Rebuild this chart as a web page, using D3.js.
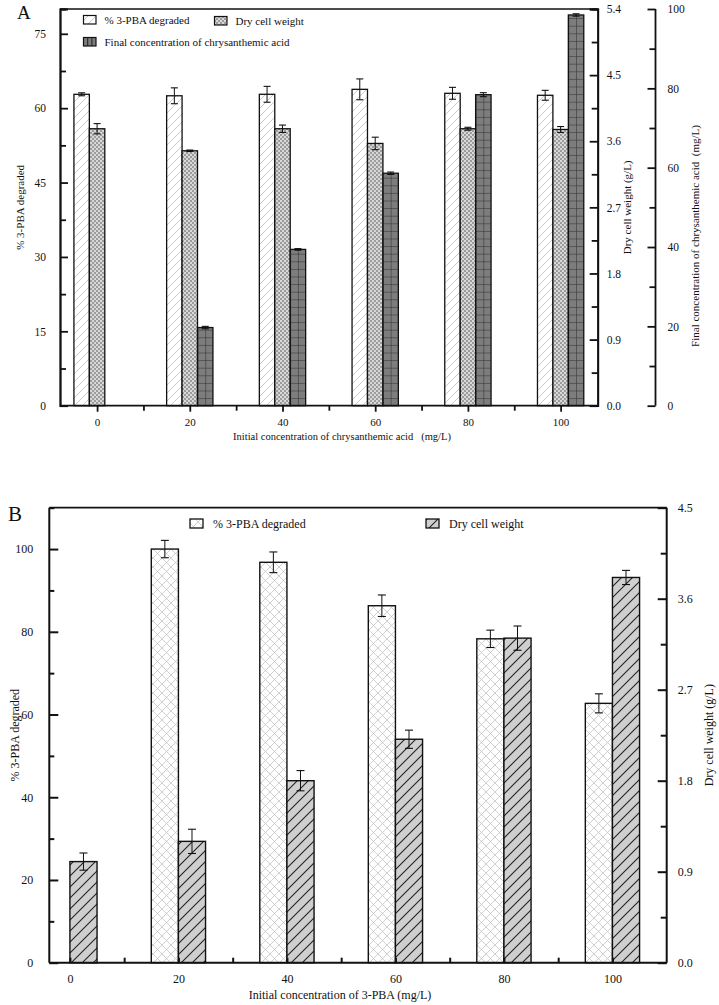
<!DOCTYPE html>
<html><head><meta charset="utf-8">
<script src="https://cdn.jsdelivr.net/npm/d3@7"></script>
<style>
html,body{margin:0;padding:0;background:#fff;}
svg text{font-family:"Liberation Serif","Times New Roman",serif;fill:#111;}
</style></head>
<body>
<svg id="chart" width="719" height="1005"></svg>
<script>
// ---------- Data: panel A ----------
const catsA = [0, 20, 40, 60, 80, 100];
const pbaA = [62.8, 62.5, 62.8, 63.8, 63.0, 62.6];
const pbaAErr = [0.3, 1.6, 1.6, 2.1, 1.2, 1.0];
const dcwA = [3.77, 3.47, 3.77, 3.57, 3.77, 3.76];
const dcwAErr = [0.07, 0.01, 0.05, 0.085, 0.02, 0.04];
const finalA = [0, 19.7, 39.4, 58.6, 78.4, 98.5];
const finalAErr = [0, 0.3, 0.2, 0.3, 0.5, 0.3];
const leftTicksA = [0, 15, 30, 45, 60, 75];
const dcwTicksA = [0.0, 0.9, 1.8, 2.7, 3.6, 4.5, 5.4];
const finalTicksA = [0, 20, 40, 60, 80, 100];
// ---------- Data: panel B ----------
const catsB = [0, 20, 40, 60, 80, 100];
const pbaB = [0, 100, 96.8, 86.3, 78.3, 62.7];
const pbaBErr = [0, 2.1, 2.5, 2.6, 2.1, 2.3];
const dcwB = [1.0, 1.2, 1.8, 2.21, 3.21, 3.81];
const dcwBErr = [0.085, 0.12, 0.1, 0.09, 0.12, 0.07];
const leftTicksB = [0, 20, 40, 60, 80, 100];
const dcwTicksB = [0.0, 0.9, 1.8, 2.7, 3.6, 4.5];

const svg = d3.select("#chart");
const defs = svg.append("defs");

// patterns
function diagPattern(id, bg, color, size, sw, both) {
  const p = defs.append("pattern").attr("id", id).attr("patternUnits", "userSpaceOnUse")
    .attr("width", size).attr("height", size);
  p.append("rect").attr("width", size).attr("height", size).attr("fill", bg);
  p.append("path").attr("d", `M-1,1 L1,-1 M0,${size} L${size},0 M${size-1},${size+1} L${size+1},${size-1}`)
    .attr("stroke", color).attr("stroke-width", sw).attr("fill", "none");
  if (both) p.append("path").attr("d", `M-1,${size-1} L1,${size+1} M0,0 L${size},${size} M${size-1},-1 L${size+1},1`)
    .attr("stroke", color).attr("stroke-width", sw).attr("fill", "none");
}
diagPattern("hatchA", "#fff", "#bdbdbd", 8, 0.8, false);
diagPattern("crossB", "#fff", "#bcbcbc", 9, 0.7, true);
diagPattern("diagB", "#cfcfcf", "#222", 11, 1.1, false);
{
  const p = defs.append("pattern").attr("id", "checkA").attr("patternUnits", "userSpaceOnUse")
    .attr("width", 4).attr("height", 4);
  p.append("rect").attr("width", 4).attr("height", 4).attr("fill", "#9c9c9c");
  p.append("rect").attr("x", 0).attr("y", 0).attr("width", 2).attr("height", 2).attr("fill", "#d8d8d8");
  p.append("rect").attr("x", 2).attr("y", 2).attr("width", 2).attr("height", 2).attr("fill", "#d8d8d8");
}
function gridPattern(id, x0, y0, w, h) {
  const p = defs.append("pattern").attr("id", id).attr("patternUnits", "userSpaceOnUse")
    .attr("x", x0).attr("y", y0).attr("width", w).attr("height", h);
  p.append("rect").attr("width", w).attr("height", h).attr("fill", "#7d7d7d");
  p.append("path").attr("d", `M0,0 H${w} M0,0 V${h}`).attr("stroke", "#2a2a2a").attr("stroke-width", 1).attr("fill", "none");
}

function drawErr(g, x, yTop, yLo, yHi, cap) {
  g.append("line").attr("x1", x).attr("x2", x).attr("y1", yLo).attr("y2", yHi).attr("stroke", "#111").attr("stroke-width", 1);
  g.append("line").attr("x1", x - cap).attr("x2", x + cap).attr("y1", yLo).attr("y2", yLo).attr("stroke", "#111").attr("stroke-width", 1.1);
  g.append("line").attr("x1", x - cap).attr("x2", x + cap).attr("y1", yHi).attr("y2", yHi).attr("stroke", "#111").attr("stroke-width", 1.1);
}
function styleAxis(g, sw) {
  g.select(".domain").attr("stroke", "#111").attr("stroke-width", sw);
  g.selectAll(".tick line").attr("stroke", "#111").attr("stroke-width", sw);
}

// ================= PANEL A =================
const A = {l: 60, r: 597.7, t: 9, b: 405.7};
const xA = d3.scaleLinear().domain([-8, 108]).range([A.l, A.r]);
const yA = d3.scaleLinear().domain([0, 80]).range([A.b, A.t]);
const yA2 = d3.scaleLinear().domain([0, 5.4]).range([A.b, A.t]);
const yA3 = d3.scaleLinear().domain([0, 100]).range([A.b, A.t]);
const bwA = xA(3.33) - xA(0);
const gA = svg.append("g");

// bars
catsA.forEach((c, i) => {
  const cx = xA(c);
  if (pbaA[i] > 0) {
    gA.append("rect").attr("x", cx - 1.5 * bwA).attr("y", yA(pbaA[i])).attr("width", bwA).attr("height", A.b - yA(pbaA[i]))
      .attr("fill", "url(#hatchA)").attr("stroke", "#111").attr("stroke-width", 1.3);
    drawErr(gA, cx - bwA, yA(pbaA[i]), yA(pbaA[i] - pbaAErr[i]), yA(pbaA[i] + pbaAErr[i]), 3.5);
  }
  gA.append("rect").attr("x", cx - 0.5 * bwA).attr("y", yA2(dcwA[i])).attr("width", bwA).attr("height", A.b - yA2(dcwA[i]))
    .attr("fill", "url(#checkA)").attr("stroke", "#111").attr("stroke-width", 1.3);
  drawErr(gA, cx, yA2(dcwA[i]), yA2(dcwA[i] - dcwAErr[i]), yA2(dcwA[i] + dcwAErr[i]), 3.5);
  if (finalA[i] > 0) {
    const bx = cx + 0.5 * bwA, by = yA3(finalA[i]);
    gridPattern("gridA" + i, bx, A.b, bwA / 2, 7.6);
    gA.append("rect").attr("x", bx).attr("y", by).attr("width", bwA).attr("height", A.b - by)
      .attr("fill", `url(#gridA${i})`).attr("stroke", "#111").attr("stroke-width", 1.3);
    drawErr(gA, cx + bwA, by, yA3(finalA[i] - finalAErr[i]), yA3(finalA[i] + finalAErr[i]), 3.5);
  }
});

gA.append("line").attr("x1", A.l).attr("x2", A.r).attr("y1", A.t).attr("y2", A.t).attr("stroke", "#111").attr("stroke-width", 1.6);

const axLA = gA.append("g").attr("transform", `translate(${A.l},0)`)
  .call(d3.axisLeft(yA).tickValues(leftTicksA).tickSize(-8).tickPadding(14).tickFormat(d3.format("d")));
styleAxis(axLA, 1.8); axLA.selectAll("text").attr("font-size", 11.5);
const axLAm = gA.append("g").attr("transform", `translate(${A.l},0)`)
  .call(d3.axisLeft(yA).tickValues(leftTicksA.map(v => v + 7.5)).tickSize(-6).tickFormat(""));
styleAxis(axLAm, 1.8);

const axBA = gA.append("g").attr("transform", `translate(0,${A.b})`)
  .call(d3.axisBottom(xA).tickValues(catsA).tickSize(6).tickPadding(7).tickFormat(d3.format("d")));
styleAxis(axBA, 1.8); axBA.selectAll("text").attr("font-size", 11);
const axBAm = gA.append("g").attr("transform", `translate(0,${A.b})`)
  .call(d3.axisBottom(xA).tickValues(catsA.slice(0, 5).map(v => v + 10)).tickSize(5).tickFormat(""));
styleAxis(axBAm, 1.8);
axBA.select(".domain").attr("d", `M${A.l},0H${A.r}`);
axBAm.select(".domain").remove();

const axRA = gA.append("g").attr("transform", `translate(${A.r},0)`)
  .call(d3.axisRight(yA2).tickValues(dcwTicksA).tickSize(-8).tickPadding(9).tickFormat(d3.format(".1f")));
styleAxis(axRA, 1.8); axRA.selectAll("text").attr("font-size", 11.5);
const axRAm = gA.append("g").attr("transform", `translate(${A.r},0)`)
  .call(d3.axisRight(yA2).tickValues(dcwTicksA.slice(0, 6).map(v => v + 0.45)).tickSize(-6).tickFormat(""));
styleAxis(axRAm, 1.8);

const x3 = 655.5;
const axTA = gA.append("g").attr("transform", `translate(${x3},0)`)
  .call(d3.axisRight(yA3).tickValues(finalTicksA).tickSize(-8).tickPadding(12).tickFormat(d3.format("d")));
styleAxis(axTA, 1.8); axTA.selectAll("text").attr("font-size", 11.5);
axTA.select(".domain").attr("d", `M0,${A.t}V${A.b}`);
const axTAm = gA.append("g").attr("transform", `translate(${x3},0)`)
  .call(d3.axisRight(yA3).tickValues(finalTicksA.slice(0, 5).map(v => v + 10)).tickSize(-6).tickFormat(""));
styleAxis(axTAm, 1.8); axTAm.select(".domain").remove();

gA.append("text").attr("transform", `translate(24,${(A.t + A.b) / 2}) rotate(-90)`).attr("text-anchor", "middle")
  .attr("font-size", 11).text("% 3-PBA degraded");
gA.append("text").attr("x", 342).attr("y", 440).attr("text-anchor", "middle").attr("font-size", 10.5)
  .attr("xml:space", "preserve").text("Initial concentration of chrysanthemic acid   (mg/L)");
gA.append("text").attr("transform", `translate(631,${(A.t + A.b) / 2}) rotate(-90)`).attr("text-anchor", "middle")
  .attr("font-size", 11).text("Dry cell weight (g/L)");
gA.append("text").attr("transform", `translate(699,236) rotate(-90)`).attr("text-anchor", "middle")
  .attr("font-size", 11).attr("xml:space", "preserve").text("Final concentration of chrysanthemic acid  (mg/L)");
gA.append("text").attr("x", 17).attr("y", 19).attr("font-size", 19).text("A");

const legA = [
  {fill: "url(#hatchA)", label: "% 3-PBA degraded", x: 83.5, y: 15.5},
  {fill: "url(#checkA)", label: "Dry cell weight", x: 214.5, y: 16.5},
  {fill: "#7d7d7d", label: "Final concentration of chrysanthemic acid", x: 83.5, y: 37.5}
];
legA.forEach(d => {
  gA.append("rect").attr("x", d.x).attr("y", d.y).attr("width", 12.5).attr("height", 8.5)
    .attr("fill", d.fill).attr("stroke", "#111").attr("stroke-width", 1.2);
  if (d.fill === "#7d7d7d") {
    gA.append("line").attr("x1", d.x + 4.2).attr("x2", d.x + 4.2).attr("y1", d.y).attr("y2", d.y + 8.5).attr("stroke", "#222");
    gA.append("line").attr("x1", d.x + 8.4).attr("x2", d.x + 8.4).attr("y1", d.y).attr("y2", d.y + 8.5).attr("stroke", "#222");
  }
  gA.append("text").attr("x", d.x + 21).attr("y", d.y + 8).attr("font-size", 11).text(d.label);
});

// ================= PANEL B =================
const B = {l: 49.3, r: 666.7, t: 507.7, b: 962.7};
const xB = d3.scaleLinear().domain([-3.8, 110]).range([B.l, B.r]);
const yB = d3.scaleLinear().domain([0, 110]).range([B.b, B.t]);
const yB2 = d3.scaleLinear().domain([0, 4.5]).range([B.b, B.t]);
const bwB = xB(5) - xB(0);
const gB = svg.append("g");

catsB.forEach((c, i) => {
  const cx = xB(c);
  if (pbaB[i] > 0) {
    gB.append("rect").attr("x", cx - bwB).attr("y", yB(pbaB[i])).attr("width", bwB).attr("height", B.b - yB(pbaB[i]))
      .attr("fill", "url(#crossB)").attr("stroke", "#111").attr("stroke-width", 1.4);
    drawErr(gB, cx - bwB / 2, yB(pbaB[i]), yB(pbaB[i] - pbaBErr[i]), yB(pbaB[i] + pbaBErr[i]), 4);
  }
  gB.append("rect").attr("x", cx).attr("y", yB2(dcwB[i])).attr("width", bwB).attr("height", B.b - yB2(dcwB[i]))
    .attr("fill", "url(#diagB)").attr("stroke", "#111").attr("stroke-width", 1.4);
  drawErr(gB, cx + bwB / 2, yB2(dcwB[i]), yB2(dcwB[i] - dcwBErr[i]), yB2(dcwB[i] + dcwBErr[i]), 4);
});

gB.append("line").attr("x1", B.l).attr("x2", B.r).attr("y1", B.t).attr("y2", B.t).attr("stroke", "#111").attr("stroke-width", 1.8);

const axLB = gB.append("g").attr("transform", `translate(${B.l},0)`)
  .call(d3.axisLeft(yB).tickValues(leftTicksB).tickSize(-9).tickPadding(16).tickFormat(d3.format("d")));
styleAxis(axLB, 2); axLB.selectAll("text").attr("font-size", 12);
axLB.select(".domain").attr("d", `M0,${B.b}V${B.t}`);
const axLBm = gB.append("g").attr("transform", `translate(${B.l},0)`)
  .call(d3.axisLeft(yB).tickValues(leftTicksB.map(v => v + 10)).tickSize(-5).tickFormat(""));
styleAxis(axLBm, 2); axLBm.select(".domain").remove();

const axBB = gB.append("g").attr("transform", `translate(0,${B.b})`)
  .call(d3.axisBottom(xB).tickValues(catsB).tickSize(-5).tickPadding(12).tickFormat(d3.format("d")));
styleAxis(axBB, 2); axBB.selectAll("text").attr("font-size", 12);
axBB.select(".domain").attr("d", `M${B.l},0H${B.r}`);
const axBBm = gB.append("g").attr("transform", `translate(0,${B.b})`)
  .call(d3.axisBottom(xB).tickValues(catsB.slice(0, 5).map(v => v + 10)).tickSize(-5).tickFormat(""));
styleAxis(axBBm, 2); axBBm.select(".domain").remove();

const axRB = gB.append("g").attr("transform", `translate(${B.r},0)`)
  .call(d3.axisRight(yB2).tickValues(dcwTicksB).tickSize(-9).tickPadding(11).tickFormat(d3.format(".1f")));
styleAxis(axRB, 2); axRB.selectAll("text").attr("font-size", 12);
axRB.select(".domain").attr("d", `M0,${B.b}V${B.t}`);
const axRBm = gB.append("g").attr("transform", `translate(${B.r},0)`)
  .call(d3.axisRight(yB2).tickValues(dcwTicksB.slice(0, 5).map(v => v + 0.45)).tickSize(-6).tickFormat(""));
styleAxis(axRBm, 2); axRBm.select(".domain").remove();

gB.append("text").attr("transform", `translate(19,${(B.t + B.b) / 2}) rotate(-90)`).attr("text-anchor", "middle")
  .attr("font-size", 12).text("% 3-PBA degraded");
gB.append("text").attr("x", 340).attr("y", 999).attr("text-anchor", "middle").attr("font-size", 12)
  .text("Initial concentration of 3-PBA (mg/L)");
gB.append("text").attr("transform", `translate(713,${(B.t + B.b) / 2}) rotate(-90)`).attr("text-anchor", "middle")
  .attr("font-size", 12).text("Dry cell weight (g/L)");
gB.append("text").attr("x", 8).attr("y", 521).attr("font-size", 21).text("B");

const legB = [
  {fill: "url(#crossB)", label: "% 3-PBA degraded", x: 190, y: 519},
  {fill: "url(#diagB)", label: "Dry cell weight", x: 426, y: 519}
];
legB.forEach(d => {
  gB.append("rect").attr("x", d.x).attr("y", d.y).attr("width", 13).attr("height", 9)
    .attr("fill", d.fill).attr("stroke", "#111").attr("stroke-width", 1.3);
  gB.append("text").attr("x", d.x + 23).attr("y", d.y + 9).attr("font-size", 12).text(d.label);
});
</script>
</body></html>
